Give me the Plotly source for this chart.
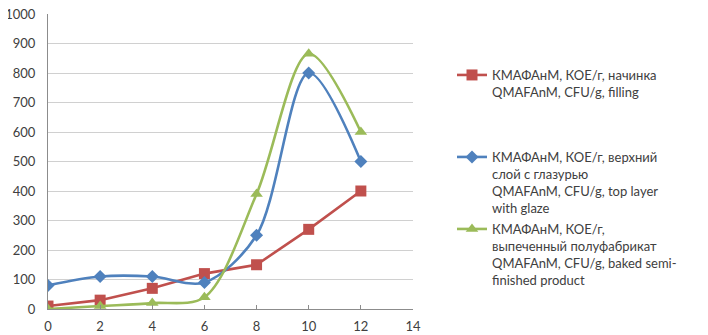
import plotly.graph_objects as go

x_days = [0, 2, 4, 6, 8, 10, 12]
filling = [10, 30, 70, 120, 150, 270, 400]
top_layer = [80, 110, 110, 90, 250, 800, 500]
baked = [0, 10, 20, 40, 390, 865, 600]

name_filling = "КМАФАнМ, КОЕ/г, начинка<br>QMAFAnM, CFU/g, filling"
name_top = "КМАФАнМ, КОЕ/г, верхний<br>слой с глазурью<br>QMAFAnM, CFU/g, top layer<br>with glaze"
name_baked = "КМАФАнМ, КОЕ/г,<br>выпеченный полуфабрикат<br>QMAFAnM, CFU/g, baked semi-<br>finished product"

RED = "#C0504D"
BLUE = "#4F81BD"
GREEN = "#9BBB59"
FONT = "Lato, Liberation Sans, sans-serif"
TXT = "#404040"

# page is offset by the default 8px body margin; size figure to fill the visible area
W, H = 700, 327
L, R, T, B = 40, 295, 6, 26
PH = H - T - B
PW = W - L - R

fig = go.Figure()
fig.add_trace(go.Scatter(x=x_days, y=filling, name=name_filling, mode="lines+markers",
                         line=dict(color=RED, width=2.6),
                         marker=dict(symbol="square", size=11, color=RED),
                         legend="legend"))
fig.add_trace(go.Scatter(x=x_days, y=top_layer, name=name_top, mode="lines+markers",
                         line=dict(color=BLUE, width=2.6, shape="spline", smoothing=0.9),
                         marker=dict(symbol="diamond", size=10, color=BLUE),
                         legend="legend2"))
fig.add_trace(go.Scatter(x=x_days, y=baked, name=name_baked, mode="lines+markers",
                         line=dict(color=GREEN, width=2.6, shape="spline", smoothing=0.9),
                         marker=dict(symbol="triangle-up", size=11, color=GREEN),
                         legend="legend3"))

leg_common = dict(font=dict(family=FONT, size=13, color=TXT), valign="top",
                  bgcolor="rgba(0,0,0,0)", xanchor="left", yanchor="top",
                  itemwidth=30, tracegroupgap=0)
leg_x = (444 - L) / PW

fig.update_layout(
    width=W, height=H,
    margin=dict(l=L, r=R, t=T, b=B, autoexpand=False),
    paper_bgcolor="white", plot_bgcolor="white",
    font=dict(family=FONT, size=13, color=TXT),
    showlegend=True,
    legend=dict(x=leg_x, y=1 - (52 - T) / PH, **leg_common),
    legend2=dict(x=leg_x, y=1 - (134 - T) / PH, **leg_common),
    legend3=dict(x=leg_x, y=1 - (206 - T) / PH, **leg_common),
    xaxis=dict(range=[0, 14], dtick=2, tick0=0, showgrid=False, zeroline=False,
               showline=True, linecolor="#8c8c8c", linewidth=1, automargin=False,
               ticks="inside", ticklen=4, tickcolor="#8c8c8c", ticklabeloverflow="allow",
               tickfont=dict(family=FONT, size=13, color=TXT), ticklabelstandoff=5),
    yaxis=dict(range=[0, 1000], tickvals=[0, 100, 200, 300, 400, 500, 600, 700, 800, 900, 1000],
               showgrid=True, gridcolor="#d0d0d0", gridwidth=1, ticklabeloverflow="allow",
               zeroline=False, showline=True, linecolor="#8c8c8c", linewidth=1, automargin=False,
               ticks="", tickfont=dict(family=FONT, size=13, color=TXT), ticklabelstandoff=9),
)

fig.write_html("out.html")
